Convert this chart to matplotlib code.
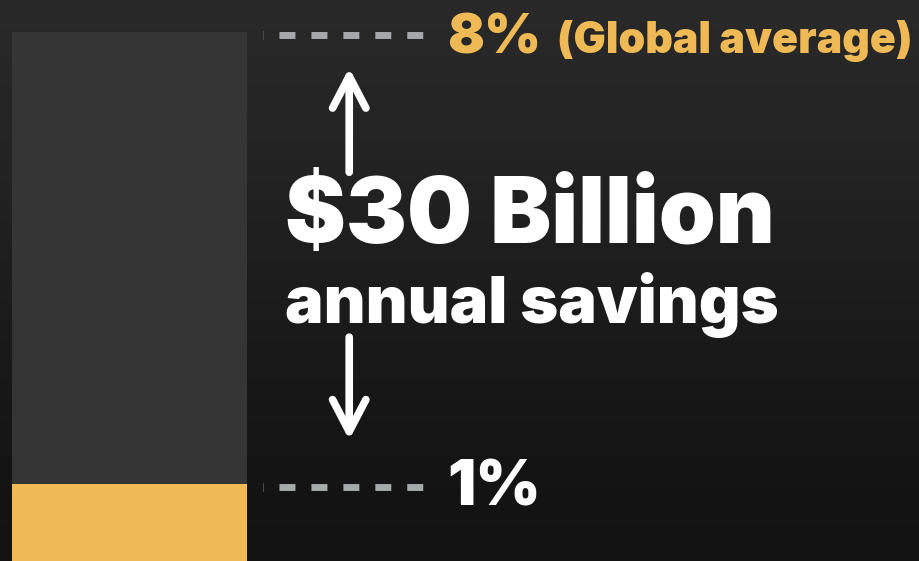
import numpy as np
import matplotlib
matplotlib.use("Agg")
import matplotlib.pyplot as plt
import matplotlib.transforms as mtransforms
from matplotlib.patches import FancyArrowPatch

# values (share of ..., %)
levels = [8, 1]
level_labels = ["8%", "1%"]
level_notes = ["(Global average)", ""]
headline = "$30 Billion"
subline = "annual savings"

ORANGE = "#efb955"
BAR_GRAY = "#353535"
DASH = "#a5a9a9"
FONT = dict(family="Inter", fontweight=900)

fig = plt.figure(figsize=(9.19, 5.61), dpi=100)
ax = fig.add_axes([0, 0, 1, 1])
renderer = fig.canvas.get_renderer()


def fit_text(t, width_px):
    # scale the font so the text spans roughly width_px
    w = t.get_window_extent(renderer).width
    t.set_fontsize(t.get_fontsize() * width_px / w)


# dark background gradient
grad = np.linspace(0, 1, 256).reshape(-1, 1)
cmap = matplotlib.colors.LinearSegmentedColormap.from_list(
    "bg", ["#121212", "#161616", "#1d1d1d", "#242424", "#292929"])
ax.imshow(grad, cmap=cmap, aspect="auto", extent=[0, 1, 0, 1],
          transform=ax.transAxes, origin="lower", zorder=0)

ymin, ymax = -0.19, 8.5
ax.set_xlim(-0.551, 3.36)
ax.set_ylim(ymin, ymax)
ax.axis("off")

# bar: full height in gray, low level in orange
ax.bar(0, levels[0] - ymin, bottom=ymin, width=1, color=BAR_GRAY, zorder=2)
ax.bar(0, levels[1] - ymin, bottom=ymin, width=1, color=ORANGE, zorder=3)

trans = mtransforms.blended_transform_factory(ax.transAxes, ax.transData)
dash_trans = mtransforms.offset_copy(trans, fig=fig, y=-3, units="dots")
for lv, lab, note in zip(levels, level_labels, level_notes):
    ax.plot([0.3036, 0.4603], [lv, lv], transform=dash_trans, color=DASH, lw=5,
            dashes=(2.3, 2.3), solid_capstyle="butt", dash_capstyle="butt", zorder=3)
    ax.plot([0.2862, 0.2862], [lv + 0.06, lv - 0.06], transform=dash_trans,
            color="#4a4a4a", lw=0.8, zorder=3)
    tcol = ORANGE if note else "white"
    t = mtransforms.offset_copy(trans, fig=fig, y=-21, units="dots")
    lt = ax.text(0.4865, lv, lab, transform=t, fontsize=40, color=tcol,
                 va="baseline", ha="left", zorder=4, **FONT)
    fit_text(lt, 94)
    if note:
        nt = ax.text(0.606, lv, note, transform=t, fontsize=27, color=tcol,
                     va="baseline", ha="left", zorder=4, **FONT)
        fit_text(nt, 356)

ht = ax.text(0.310, 0.567, headline, transform=ax.transAxes, fontsize=57,
             color="white", va="baseline", ha="left", zorder=4, **FONT)
fit_text(ht, 491)
st = ax.text(0.310, 0.424, subline, transform=ax.transAxes, fontsize=42,
             color="white", va="baseline", ha="left", zorder=4, **FONT)
fit_text(st, 493)

for y0, y1 in [(0.693, 0.879), (0.399, 0.216)]:
    arr = FancyArrowPatch((0.38, y0), (0.38, y1), transform=ax.transAxes,
                          arrowstyle="->,head_length=2.3,head_width=1.2",
                          mutation_scale=10, lw=5.5, color="white",
                          capstyle="round", joinstyle="round",
                          shrinkA=0, shrinkB=0, zorder=4)
    ax.add_patch(arr)

fig.savefig("out.png", dpi=100, facecolor="#1a1a1a")
